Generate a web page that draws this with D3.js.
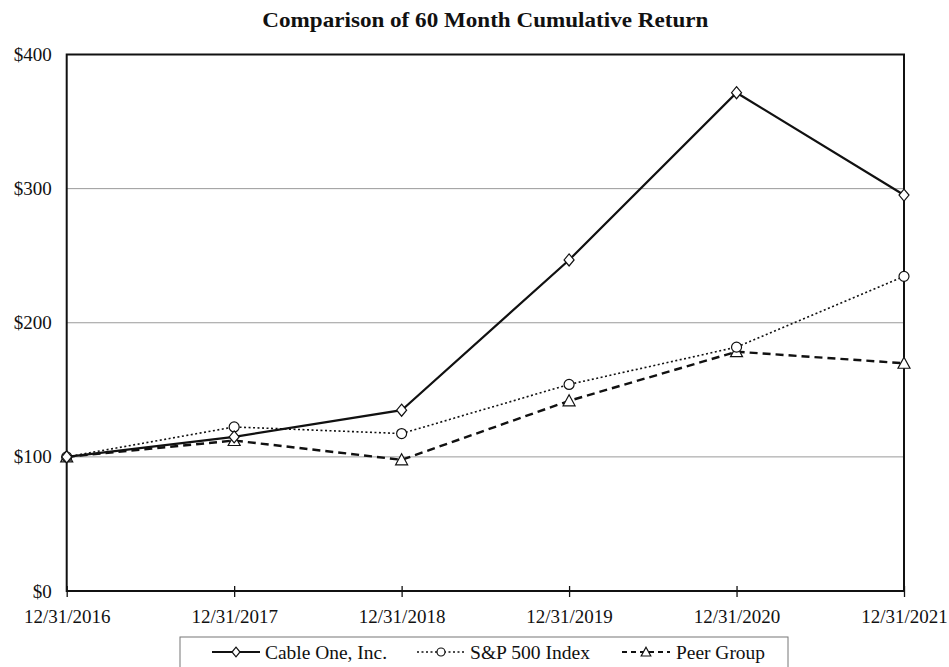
<!DOCTYPE html>
<html><head><meta charset="utf-8">
<script src="https://cdn.jsdelivr.net/npm/d3@7"></script>
<style>
html,body{margin:0;padding:0;background:#fff;}
svg{display:block;}
text{font-family:"Liberation Serif","Times New Roman",serif;fill:#111;}
</style></head>
<body>
<svg id="chart" width="949" height="667"></svg>
<script>
const categories = ["12/31/2016","12/31/2017","12/31/2018","12/31/2019","12/31/2020","12/31/2021"];
const cableOne = [100, 114.9, 134.8, 246.8, 371.5, 295.2];
const sp500 = [100, 122.3, 117.4, 154.0, 181.8, 234.6];
const peerGroup = [100, 112.2, 97.8, 141.8, 178.4, 169.8];
const yTicks = [0, 100, 200, 300, 400];
const seriesNames = ["Cable One, Inc.", "S&P 500 Index", "Peer Group"];

const svg = d3.select("#chart");
const m = {left: 66.7, right: 904, top: 54.5, bottom: 591};

const x = d3.scalePoint().domain(categories).range([m.left, m.right]);
const y = d3.scaleLinear().domain([0, 400]).range([m.bottom, m.top]);

// title
svg.append("text").attr("x", (m.left + m.right) / 2).attr("y", 27)
  .attr("text-anchor", "middle").attr("font-weight", "bold").attr("font-size", 21)
  .attr("textLength", 446).attr("lengthAdjust", "spacingAndGlyphs")
  .text("Comparison of 60 Month Cumulative Return");

// gridlines
svg.append("g").selectAll("line").data(yTicks.filter(d => d > 0 && d < 400)).join("line")
  .attr("x1", m.left).attr("x2", m.right)
  .attr("y1", d => y(d)).attr("y2", d => y(d))
  .attr("stroke", "#9a9a9a").attr("stroke-width", 1);

// y axis labels
const yAxis = d3.axisLeft(y).tickValues(yTicks).tickSize(0).tickPadding(15)
  .tickFormat(d => "$" + d);
const gy = svg.append("g").attr("transform", `translate(${m.left},0)`).call(yAxis);
gy.select(".domain").remove();
gy.selectAll("text").attr("font-size", 19).attr("font-family", "Liberation Serif").attr("fill", "#111");

// x axis
const xAxis = d3.axisBottom(x).tickSize(5).tickPadding(14);
const gx = svg.append("g").attr("transform", `translate(0,${m.bottom})`).call(xAxis);
gx.select(".domain").remove();
gx.selectAll(".tick line").attr("y1", -5).attr("y2", 6).attr("stroke", "#111").attr("stroke-width", 1.3);
gx.selectAll("text").attr("font-size", 19).attr("font-family", "Liberation Serif").attr("fill", "#111");

// frame
svg.append("rect").attr("x", m.left).attr("y", m.top)
  .attr("width", m.right - m.left).attr("height", m.bottom - m.top)
  .attr("fill", "none").attr("stroke", "#111").attr("stroke-width", 2);

const line = d3.line().x((d, i) => x(categories[i])).y(d => y(d));

const styles = [
  {data: cableOne, dash: null, width: 2.2, marker: "diamond"},
  {data: sp500, dash: "2,2.5", width: 1.6, marker: "circle"},
  {data: peerGroup, dash: "8,5", width: 2.4, marker: "triangle"}
];

function drawMarker(g, type, cx, cy, s) {
  s = s || 1;
  if (type === "diamond") {
    g.append("path").attr("d", `M${cx},${cy-6*s}L${cx+5*s},${cy}L${cx},${cy+6*s}L${cx-5*s},${cy}Z`)
      .attr("fill", "#fff").attr("stroke", "#111").attr("stroke-width", 1.2);
  } else if (type === "circle") {
    g.append("circle").attr("cx", cx).attr("cy", cy).attr("r", 5*s)
      .attr("fill", "#fff").attr("stroke", "#111").attr("stroke-width", 1.2);
  } else {
    g.append("path").attr("d", `M${cx},${cy-6*s}L${cx+6*s},${cy+5*s}L${cx-6*s},${cy+5*s}Z`)
      .attr("fill", "#fff").attr("stroke", "#111").attr("stroke-width", 1.2);
  }
}

// draw in reverse order so Cable One on top
[2, 1, 0].forEach(k => {
  const s = styles[k];
  svg.append("path").datum(s.data).attr("d", line)
    .attr("fill", "none").attr("stroke", "#111").attr("stroke-width", s.width)
    .attr("stroke-dasharray", s.dash);
  const g = svg.append("g");
  s.data.forEach((v, i) => drawMarker(g, s.marker, x(categories[i]), y(v)));
});

// legend
const lg = svg.append("g");
lg.append("rect").attr("x", 180).attr("y", 637).attr("width", 608).attr("height", 40)
  .attr("fill", "#fff").attr("stroke", "#777").attr("stroke-width", 1);
const legendItems = [
  {x1: 212, x2: 260, tx: 265, tw: 122},
  {x1: 417, x2: 465, tx: 470, tw: 120},
  {x1: 622, x2: 670, tx: 676, tw: 89}
];
const ly = 652;
legendItems.forEach((it, k) => {
  const s = styles[k];
  lg.append("line").attr("x1", it.x1).attr("x2", it.x2).attr("y1", ly).attr("y2", ly)
    .attr("stroke", "#111").attr("stroke-width", k === 1 ? 1.4 : 2).attr("stroke-dasharray", k === 2 ? "5,4" : s.dash);
  drawMarker(lg, s.marker, (it.x1 + it.x2) / 2, ly, 0.8);
  lg.append("text").attr("x", it.tx).attr("y", 659).attr("font-size", 19)
    .attr("textLength", it.tw).attr("lengthAdjust", "spacingAndGlyphs")
    .text(seriesNames[k]);
});
</script>
</body></html>
